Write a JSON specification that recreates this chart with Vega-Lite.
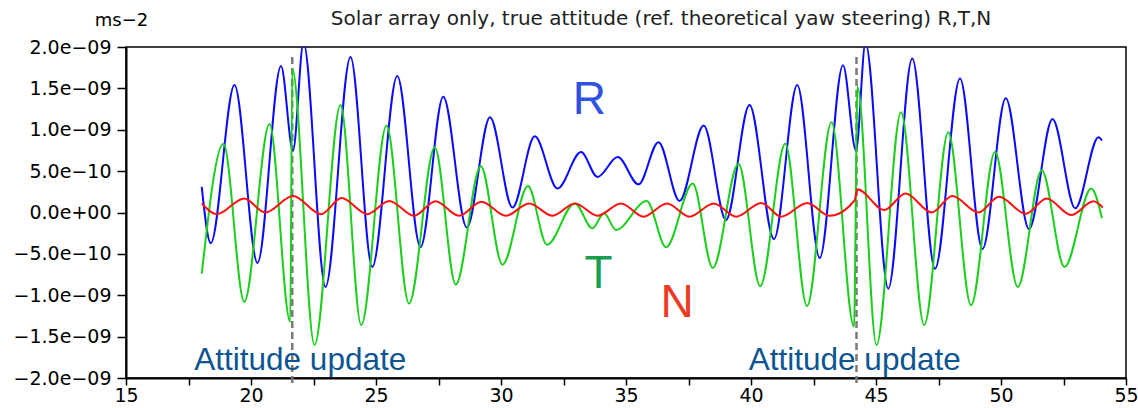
{
  "$schema": "https://vega.github.io/schema/vega-lite/v6.json",
  "width": 1000,
  "height": 331,
  "autosize": {"type": "none"},
  "padding": {"left": 126, "top": 47, "right": 12, "bottom": 30},
  "background": "white",
  "config": {
    "view": {"stroke": "black", "strokeWidth": 1.5},
    "font": "DejaVu Sans"
  },
  "title": {
    "text": "Solar array only, true attitude (ref. theoretical yaw steering) R,T,N",
    "orient": "top",
    "anchor": "middle",
    "baseline": "alphabetic",
    "offset": -34,
    "dx": 35,
    "font": "DejaVu Sans",
    "fontSize": 20,
    "fontWeight": "normal",
    "color": "#222222"
  },
  "datasets": {
    "series": [
      {"s": "R", "x": 18.03, "y": 0.31e-9},
      {"s": "R", "x": 18.39, "y": -0.37e-9},
      {"s": "R", "x": 19.34, "y": 1.54e-9},
      {"s": "R", "x": 20.26, "y": -0.61e-9},
      {"s": "R", "x": 21.2, "y": 1.77e-9},
      {"s": "R", "x": 21.68, "y": 0.75e-9},
      {"s": "R", "x": 22.1, "y": 2.05e-9},
      {"s": "R", "x": 22.98, "y": -0.9e-9},
      {"s": "R", "x": 23.98, "y": 1.88e-9},
      {"s": "R", "x": 24.85, "y": -0.66e-9},
      {"s": "R", "x": 25.85, "y": 1.65e-9},
      {"s": "R", "x": 26.78, "y": -0.42e-9},
      {"s": "R", "x": 27.69, "y": 1.40e-9},
      {"s": "R", "x": 28.63, "y": -0.18e-9},
      {"s": "R", "x": 29.56, "y": 1.15e-9},
      {"s": "R", "x": 30.46, "y": 0.06e-9},
      {"s": "R", "x": 31.35, "y": 0.92e-9},
      {"s": "R", "x": 32.26, "y": 0.29e-9},
      {"s": "R", "x": 33.2, "y": 0.73e-9},
      {"s": "R", "x": 33.86, "y": 0.43e-9},
      {"s": "R", "x": 34.67, "y": 0.67e-9},
      {"s": "R", "x": 35.5, "y": 0.34e-9},
      {"s": "R", "x": 36.3, "y": 0.85e-9},
      {"s": "R", "x": 37.14, "y": 0.14e-9},
      {"s": "R", "x": 38.11, "y": 1.05e-9},
      {"s": "R", "x": 39.0, "y": -0.09e-9},
      {"s": "R", "x": 39.94, "y": 1.30e-9},
      {"s": "R", "x": 40.92, "y": -0.32e-9},
      {"s": "R", "x": 41.85, "y": 1.54e-9},
      {"s": "R", "x": 42.75, "y": -0.55e-9},
      {"s": "R", "x": 43.68, "y": 1.78e-9},
      {"s": "R", "x": 44.2, "y": 0.75e-9},
      {"s": "R", "x": 44.58, "y": 2.05e-9},
      {"s": "R", "x": 45.49, "y": -0.92e-9},
      {"s": "R", "x": 46.45, "y": 1.86e-9},
      {"s": "R", "x": 47.36, "y": -0.68e-9},
      {"s": "R", "x": 48.36, "y": 1.62e-9},
      {"s": "R", "x": 49.26, "y": -0.44e-9},
      {"s": "R", "x": 50.19, "y": 1.38e-9},
      {"s": "R", "x": 51.12, "y": -0.2e-9},
      {"s": "R", "x": 52.06, "y": 1.13e-9},
      {"s": "R", "x": 52.97, "y": 0.05e-9},
      {"s": "R", "x": 53.9, "y": 0.91e-9},
      {"s": "R", "x": 54.04, "y": 0.87e-9},

      {"s": "T", "x": 18.03, "y": -0.74e-9},
      {"s": "T", "x": 18.9, "y": 0.83e-9},
      {"s": "T", "x": 19.73, "y": -1.08e-9},
      {"s": "T", "x": 20.74, "y": 1.07e-9},
      {"s": "T", "x": 21.57, "y": -1.32e-9},
      {"s": "T", "x": 21.65, "y": 1.74e-9},
      {"s": "T", "x": 22.54, "y": -1.6e-9},
      {"s": "T", "x": 23.58, "y": 1.30e-9},
      {"s": "T", "x": 24.41, "y": -1.36e-9},
      {"s": "T", "x": 25.42, "y": 1.05e-9},
      {"s": "T", "x": 26.32, "y": -1.10e-9},
      {"s": "T", "x": 27.35, "y": 0.79e-9},
      {"s": "T", "x": 28.19, "y": -0.87e-9},
      {"s": "T", "x": 29.19, "y": 0.56e-9},
      {"s": "T", "x": 30.06, "y": -0.63e-9},
      {"s": "T", "x": 31.08, "y": 0.32e-9},
      {"s": "T", "x": 31.84, "y": -0.39e-9},
      {"s": "T", "x": 32.95, "y": 0.11e-9},
      {"s": "T", "x": 33.66, "y": -0.19e-9},
      {"s": "T", "x": 34.12, "y": -0.01e-9},
      {"s": "T", "x": 34.6, "y": -0.21e-9},
      {"s": "T", "x": 35.83, "y": 0.14e-9},
      {"s": "T", "x": 36.6, "y": -0.42e-9},
      {"s": "T", "x": 37.67, "y": 0.35e-9},
      {"s": "T", "x": 38.47, "y": -0.67e-9},
      {"s": "T", "x": 39.5, "y": 0.59e-9},
      {"s": "T", "x": 40.37, "y": -0.89e-9},
      {"s": "T", "x": 41.37, "y": 0.83e-9},
      {"s": "T", "x": 42.24, "y": -1.13e-9},
      {"s": "T", "x": 43.22, "y": 1.09e-9},
      {"s": "T", "x": 44.12, "y": -1.38e-9},
      {"s": "T", "x": 44.26, "y": 1.52e-9},
      {"s": "T", "x": 45.02, "y": -1.6e-9},
      {"s": "T", "x": 46.0, "y": 1.21e-9},
      {"s": "T", "x": 46.93, "y": -1.36e-9},
      {"s": "T", "x": 47.89, "y": 0.97e-9},
      {"s": "T", "x": 48.8, "y": -1.12e-9},
      {"s": "T", "x": 49.76, "y": 0.73e-9},
      {"s": "T", "x": 50.67, "y": -0.9e-9},
      {"s": "T", "x": 51.63, "y": 0.51e-9},
      {"s": "T", "x": 52.54, "y": -0.66e-9},
      {"s": "T", "x": 53.61, "y": 0.29e-9},
      {"s": "T", "x": 54.04, "y": -0.07e-9},

      {"s": "N", "x": 18.03, "y": 0.11e-9},
      {"s": "N", "x": 18.63, "y": -0.02e-9},
      {"s": "N", "x": 19.73, "y": 0.17e-9},
      {"s": "N", "x": 20.57, "y": 0.0},
      {"s": "N", "x": 21.68, "y": 0.2e-9},
      {"s": "N", "x": 22.8, "y": -0.02e-9},
      {"s": "N", "x": 23.62, "y": 0.175e-9},
      {"s": "N", "x": 24.65, "y": -0.02e-9},
      {"s": "N", "x": 25.53, "y": 0.14e-9},
      {"s": "N", "x": 26.52, "y": -0.04e-9},
      {"s": "N", "x": 27.38, "y": 0.135e-9},
      {"s": "N", "x": 28.32, "y": -0.04e-9},
      {"s": "N", "x": 29.22, "y": 0.13e-9},
      {"s": "N", "x": 30.19, "y": -0.04e-9},
      {"s": "N", "x": 31.13, "y": 0.11e-9},
      {"s": "N", "x": 32.06, "y": -0.04e-9},
      {"s": "N", "x": 32.96, "y": 0.11e-9},
      {"s": "N", "x": 33.86, "y": -0.04e-9},
      {"s": "N", "x": 34.8, "y": 0.11e-9},
      {"s": "N", "x": 35.7, "y": -0.05e-9},
      {"s": "N", "x": 36.64, "y": 0.11e-9},
      {"s": "N", "x": 37.54, "y": -0.05e-9},
      {"s": "N", "x": 38.51, "y": 0.11e-9},
      {"s": "N", "x": 39.41, "y": -0.05e-9},
      {"s": "N", "x": 40.41, "y": 0.115e-9},
      {"s": "N", "x": 41.21, "y": -0.05e-9},
      {"s": "N", "x": 42.25, "y": 0.115e-9},
      {"s": "N", "x": 43.15, "y": -0.04e-9},
      {"s": "N", "x": 44.15, "y": 0.15e-9},
      {"s": "N", "x": 44.25, "y": 0.28e-9},
      {"s": "N", "x": 45.33, "y": 0.03e-9},
      {"s": "N", "x": 46.18, "y": 0.23e-9},
      {"s": "N", "x": 47.23, "y": 0.0},
      {"s": "N", "x": 48.05, "y": 0.2e-9},
      {"s": "N", "x": 49.1, "y": 0.0},
      {"s": "N", "x": 49.92, "y": 0.19e-9},
      {"s": "N", "x": 50.99, "y": -0.015e-9},
      {"s": "N", "x": 51.83, "y": 0.17e-9},
      {"s": "N", "x": 52.81, "y": -0.03e-9},
      {"s": "N", "x": 53.7, "y": 0.135e-9},
      {"s": "N", "x": 54.07, "y": 0.06e-9}
    ],
    "updates": [
      {"x": 21.65, "top": 1.88e-9, "bottom": -2.08e-9},
      {"x": 44.22, "top": 1.88e-9, "bottom": -2.08e-9}
    ],
    "updateLabels": [
      {"label": "Attitude update", "x": 21.97, "y": -1.903e-9},
      {"label": "Attitude update", "x": 44.15, "y": -1.903e-9}
    ]
  },
  "layer": [
    {
      "data": {"name": "updates"},
      "mark": {"type": "rule", "color": "#7a7a7a", "strokeWidth": 2.5, "strokeDash": [7, 4]},
      "encoding": {
        "x": {
          "field": "x", "type": "quantitative",
          "scale": {"domain": [15, 55], "nice": false, "zero": false},
          "axis": {
            "values": [15, 17.5, 20, 22.5, 25, 27.5, 30, 32.5, 35, 37.5, 40, 42.5, 45, 47.5, 50, 52.5, 55],
            "labelExpr": "datum.value % 5 === 0 ? format(datum.value, 'd') : ''",
            "title": null,
            "grid": false,
            "domainColor": "black",
            "domainWidth": 2,
            "tickColor": "black",
            "tickWidth": 1.5,
            "tickSize": 7,
            "labelFont": "DejaVu Sans",
            "labelFontSize": 19,
            "labelColor": "black",
            "labelPadding": 1,
            "labelFlush": false,
            "labelOverlap": false
          }
        },
        "y": {
          "field": "top", "type": "quantitative",
          "scale": {"domain": [-2e-9, 2e-9], "nice": false, "zero": false},
          "axis": {
            "values": [-2e-9, -1.75e-9, -1.5e-9, -1.25e-9, -1e-9, -0.75e-9, -0.5e-9, -0.25e-9, 0, 0.25e-9, 0.5e-9, 0.75e-9, 1e-9, 1.25e-9, 1.5e-9, 1.75e-9, 2e-9],
            "labelExpr": "round(datum.value * 4e9) % 2 !== 0 ? '' : (abs(datum.value) < 1e-12 ? '0.0e+00' : (datum.value < 0 ? '\u2212' : '') + replace(replace(format(abs(datum.value), '.1e'), 'e-', 'e\u2212'), 'e\u22129', 'e\u221209'))",
            "title": "ms\u22122",
            "titleAngle": 0,
            "titleAlign": "center",
            "titleBaseline": "alphabetic",
            "titleX": -5,
            "titleY": -22,
            "titleFont": "DejaVu Sans",
            "titleFontSize": 18,
            "titleFontWeight": "normal",
            "titleColor": "black",
            "grid": false,
            "domainColor": "black",
            "domainWidth": 2,
            "tickColor": "black",
            "tickWidth": 1.5,
            "tickSize": 9,
            "labelFont": "DejaVu Sans",
            "labelFontSize": 19,
            "labelColor": "black",
            "labelPadding": 6,
            "labelFlush": false,
            "labelOverlap": false
          }
        },
        "y2": {"field": "bottom"}
      }
    },
    {
      "data": {"name": "series"},
      "mark": {"type": "line", "strokeWidth": 2, "interpolate": "monotone", "clip": true},
      "encoding": {
        "x": {"field": "x", "type": "quantitative"},
        "y": {"field": "y", "type": "quantitative"},
        "color": {
          "field": "s", "type": "nominal",
          "scale": {"domain": ["R", "T", "N"], "range": ["#0a0aff", "#1ccf1c", "#ff1010"]},
          "legend": null
        }
      }
    },
    {
      "data": {"values": [{"label": "R", "x": 33.53, "y": 1.19e-9}]},
      "mark": {"type": "text", "font": "Liberation Sans", "fontSize": 46, "align": "center", "baseline": "alphabetic", "color": "#2f52e0"},
      "encoding": {"x": {"field": "x", "type": "quantitative"}, "y": {"field": "y", "type": "quantitative"}, "text": {"field": "label"}}
    },
    {
      "data": {"values": [{"label": "T", "x": 33.9, "y": -0.916e-9}]},
      "mark": {"type": "text", "font": "Liberation Sans", "fontSize": 46, "align": "center", "baseline": "alphabetic", "color": "#1a9e52"},
      "encoding": {"x": {"field": "x", "type": "quantitative"}, "y": {"field": "y", "type": "quantitative"}, "text": {"field": "label"}}
    },
    {
      "data": {"values": [{"label": "N", "x": 37.04, "y": -1.26e-9}]},
      "mark": {"type": "text", "font": "Liberation Sans", "fontSize": 46, "align": "center", "baseline": "alphabetic", "color": "#ee3a24"},
      "encoding": {"x": {"field": "x", "type": "quantitative"}, "y": {"field": "y", "type": "quantitative"}, "text": {"field": "label"}}
    },
    {
      "data": {"name": "updateLabels"},
      "mark": {"type": "text", "font": "Liberation Sans", "fontSize": 31.5, "align": "center", "baseline": "alphabetic", "color": "#0c5492"},
      "encoding": {"x": {"field": "x", "type": "quantitative"}, "y": {"field": "y", "type": "quantitative"}, "text": {"field": "label"}}
    }
  ]
}
